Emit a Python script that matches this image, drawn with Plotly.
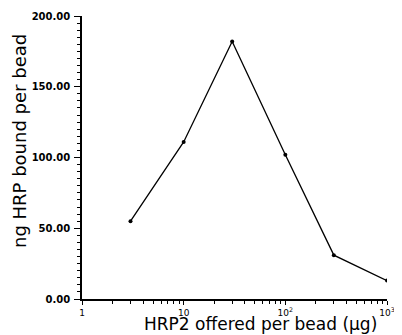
import plotly.graph_objects as go

hrp2_offered = [3, 10, 30, 100, 300, 1000]
hrp_bound = [55, 111, 182, 102, 31, 13]

x_tick_vals = [1, 10, 100, 1000]
x_tick_text = ["1", "10", "10<sup>2</sup>", "10<sup>3</sup>"]
x_minor_vals = [m * 10 ** d for d in range(3) for m in range(2, 10)]
y_tick_vals = [0, 50, 100, 150, 200]
y_tick_text = ["0.00", "50.00", "100.00", "150.00", "200.00"]

fig = go.Figure()
fig.add_trace(go.Scatter(
    x=hrp2_offered, y=hrp_bound, mode="lines+markers",
    line=dict(color="black", width=1.3),
    marker=dict(color="black", size=4),
    showlegend=False,
))

fig.update_layout(
    template="none",
    width=402, height=335,
    margin=dict(l=74, r=23, t=8, b=44),
    paper_bgcolor="white", plot_bgcolor="white",
    font=dict(family="DejaVu Sans", color="black"),
    annotations=[
        dict(text="HRP2 offered per bead (μg)", xref="paper", yref="paper",
             x=0.585, y=-0.045, xanchor="center", yanchor="top",
             showarrow=False, font=dict(size=17)),
        dict(text="ng HRP bound per bead", xref="paper", yref="paper",
             x=-0.205, y=0.56, xanchor="center", yanchor="middle", textangle=-90,
             showarrow=False, font=dict(size=18)),
    ],
    xaxis=dict(
        type="log", range=[0, 3], automargin=False,
        tickmode="array", tickvals=x_tick_vals, ticktext=x_tick_text,
        ticks="outside", ticklen=4, tickwidth=1.2, tickcolor="black",
        minor=dict(tickmode="array", tickvals=x_minor_vals, ticks="outside",
                   ticklen=3, tickwidth=1, tickcolor="black", showgrid=False),
        showline=True, linecolor="black", linewidth=1.5,
        showgrid=False, zeroline=False,
        tickfont=dict(size=9),
    ),
    yaxis=dict(
        range=[0, 200], automargin=False,
        tickmode="array", tickvals=y_tick_vals, ticktext=y_tick_text,
        ticks="outside", ticklen=6, tickwidth=1.2, tickcolor="black",
        minor=dict(dtick=5, tick0=0, ticks="outside", ticklen=3, tickwidth=1,
                   tickcolor="black", showgrid=False),
        showline=True, linecolor="black", linewidth=1.5,
        showgrid=False, zeroline=False,
        tickfont=dict(size=10, family="DejaVu Sans", weight="bold"),
        ticklabelstandoff=2,
    ),
)

fig.write_html("out.html")
